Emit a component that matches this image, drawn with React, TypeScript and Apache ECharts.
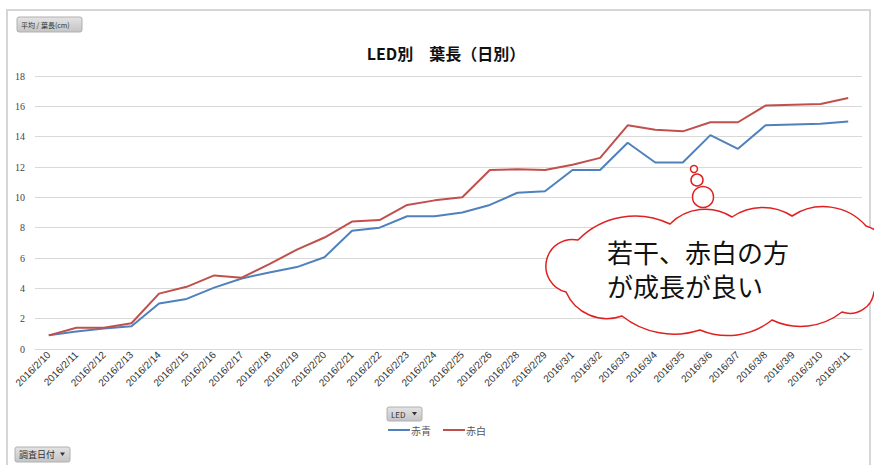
import React, { useEffect, useRef } from "react";
import * as echarts from "echarts";

const categories = [
  "2016/2/10", "2016/2/11", "2016/2/12", "2016/2/13", "2016/2/14", "2016/2/15",
  "2016/2/16", "2016/2/17", "2016/2/18", "2016/2/19", "2016/2/20", "2016/2/21",
  "2016/2/22", "2016/2/23", "2016/2/24", "2016/2/25", "2016/2/26", "2016/2/28",
  "2016/2/29", "2016/3/1", "2016/3/2", "2016/3/3", "2016/3/4", "2016/3/5",
  "2016/3/6", "2016/3/7", "2016/3/8", "2016/3/9", "2016/3/10", "2016/3/11",
];

const seriesBlueName = "赤青";
const seriesBlue = [
  0.9, 1.15, 1.35, 1.5, 3.0, 3.3, 4.05, 4.65, 5.05, 5.4, 6.05, 7.8,
  8.0, 8.75, 8.75, 9.0, 9.5, 10.3, 10.4, 11.8, 11.8, 13.6, 12.3, 12.3,
  14.1, 13.2, 14.75, 14.8, 14.85, 15.0,
];

const seriesRedName = "赤白";
const seriesRed = [
  0.9, 1.4, 1.4, 1.7, 3.65, 4.1, 4.85, 4.7, 5.6, 6.55, 7.35, 8.4,
  8.5, 9.5, 9.8, 10.0, 11.8, 11.85, 11.8, 12.15, 12.6, 14.75, 14.45, 14.35,
  14.95, 14.95, 16.05, 16.1, 16.15, 16.55,
];

const yTicks = { min: 0, max: 18, interval: 2 };

const titleText = "LED別　葉長（日別）";
const noteLines = ["若干、赤白の方", "が成長が良い"];
const valueButtonText = "平均 / 葉長(cm)";
const legendButtonText = "LED";
const axisButtonText = "調査日付";

// cloud outline: valley points and bulge sizes (decoration only)
const cloudPts: number[][] = [
  [578, 240], [670, 224], [732, 217], [792, 216], [866, 226], [874, 292],
  [842, 312], [772, 320], [700, 330], [622, 316], [566, 292],
];
const cloudBulge = [15, 11, 9, 14, 22, 9, 10, 10, 10, 12, 27];

function buildCloudPath(): string {
  let d = `M${cloudPts[0][0]} ${cloudPts[0][1]}`;
  for (let i = 0; i < cloudPts.length; i++) {
    const a = cloudPts[i];
    const b = cloudPts[(i + 1) % cloudPts.length];
    const L = Math.hypot(b[0] - a[0], b[1] - a[1]);
    const h = cloudBulge[i];
    const r = (h * h + (L / 2) * (L / 2)) / (2 * h);
    d += ` A${r.toFixed(2)} ${r.toFixed(2)} 0 0 1 ${b[0]} ${b[1]}`;
  }
  return d + " Z";
}

let registered = false;

function button(x: number, y: number, w: number, h: number, text: string, fontSize: number, arrow: boolean): any {
  const children: any[] = [
    {
      type: "rect",
      shape: { x, y, width: w, height: h, r: 2 },
      style: {
        fill: new echarts.graphic.LinearGradient(0, 0, 0, 1, [
          { offset: 0, color: "#e4e4e4" },
          { offset: 1, color: "#c4c4c4" },
        ]),
        stroke: "#b0b0b0",
        lineWidth: 1,
      },
    },
    {
      type: "text",
      x: x + 4,
      y: y + h / 2,
      style: {
        text,
        fontSize,
        fill: "#333",
        verticalAlign: "middle",
        fontFamily: "Noto Sans CJK JP",
      },
    },
  ];
  if (arrow) {
    children.push({
      type: "polygon",
      shape: {
        points: [
          [x + w - 10, y + h / 2 - 2],
          [x + w - 5, y + h / 2 - 2],
          [x + w - 7.5, y + h / 2 + 1.5],
        ],
      },
      style: { fill: "#333" },
    });
  }
  return { type: "group", children };
}

export default function App() {
  const ref = useRef<HTMLDivElement>(null);
  useEffect(() => {
    if (!ref.current) return;
    if (!registered) {
      echarts.graphic.registerShape("cloud", echarts.graphic.extendPath(buildCloudPath(), {}) as any);
      registered = true;
    }
    const chart = echarts.init(ref.current, null, { renderer: "svg" });
    const bubbleStyle = { fill: "#ffffff", stroke: "#e02020", lineWidth: 1.5 };
    chart.setOption({
      animation: false,
      backgroundColor: "#ffffff",
      title: {
        text: titleText,
        left: 441,
        textAlign: "center",
        top: 40,
        textStyle: {
          fontSize: 16,
          fontWeight: "bold",
          color: "#111",
          fontFamily: "Noto Sans CJK JP",
        },
      },
      legend: {
        bottom: 25,
        left: "center",
        itemWidth: 22,
        itemHeight: 2,
        itemGap: 12,
        icon: "rect",
        textStyle: { fontSize: 10, color: "#555", fontFamily: "Noto Sans CJK JP", padding: [0, 0, 0, -4] },
        data: [seriesBlueName, seriesRedName],
      },
      grid: { left: 35, right: 12, top: 76, bottom: 116, containLabel: false },
      xAxis: {
        type: "category",
        data: categories,
        boundaryGap: true,
        axisLine: { show: true, lineStyle: { color: "#d9d9d9", width: 1 } },
        axisTick: { show: false },
        axisLabel: {
          rotate: 45,
          interval: 0,
          fontSize: 10,
          color: "#333",
          margin: 4,
          fontFamily: "Liberation Sans",
        },
      },
      yAxis: {
        type: "value",
        min: yTicks.min,
        max: yTicks.max,
        interval: yTicks.interval,
        axisLine: { show: false },
        axisTick: { show: false },
        axisLabel: { fontSize: 10, color: "#444", margin: 10, fontFamily: "Liberation Serif" },
        splitLine: { lineStyle: { color: "#d9d9d9", width: 1 } },
      },
      series: [
        {
          name: seriesBlueName,
          type: "line",
          data: seriesBlue,
          symbol: "none",
          lineStyle: { color: "#4f81bd", width: 2 },
          itemStyle: { color: "#4f81bd" },
        },
        {
          name: seriesRedName,
          type: "line",
          data: seriesRed,
          symbol: "none",
          lineStyle: { color: "#c0504d", width: 2 },
          itemStyle: { color: "#c0504d" },
        },
      ],
      graphic: [
        {
          type: "rect",
          z: -10,
          silent: true,
          shape: { x: 7, y: 10, width: 863, height: 470 },
          style: { fill: "none", stroke: "#d6d6d6", lineWidth: 2 },
        },
        button(17, 17, 65, 15, valueButtonText, 7, false),
        button(387, 407, 35, 14, legendButtonText, 8, true),
        button(15, 447, 55, 15, axisButtonText, 9, true),
        { type: "cloud", z: 100, x: 0, y: 0, style: bubbleStyle },
        { type: "circle", z: 100, shape: { cx: 703, cy: 197, r: 10.5 }, style: bubbleStyle },
        { type: "circle", z: 100, shape: { cx: 697, cy: 180, r: 6 }, style: bubbleStyle },
        { type: "circle", z: 100, shape: { cx: 694, cy: 169, r: 3.5 }, style: bubbleStyle },
        {
          type: "text",
          z: 101,
          x: 607,
          y: 237,
          style: { text: noteLines[0], fontSize: 26, lineHeight: 28, fill: "#111", fontFamily: "Noto Sans CJK JP" },
        },
        {
          type: "text",
          z: 101,
          x: 607,
          y: 271,
          style: { text: noteLines[1], fontSize: 26, lineHeight: 28, fill: "#111", fontFamily: "Noto Sans CJK JP" },
        },
      ],
    });
    return () => chart.dispose();
  }, []);
  return (
    <div
      ref={ref}
      style={{ position: "fixed", left: 0, top: 0, width: 874, height: 465 }}
    />
  );
}
